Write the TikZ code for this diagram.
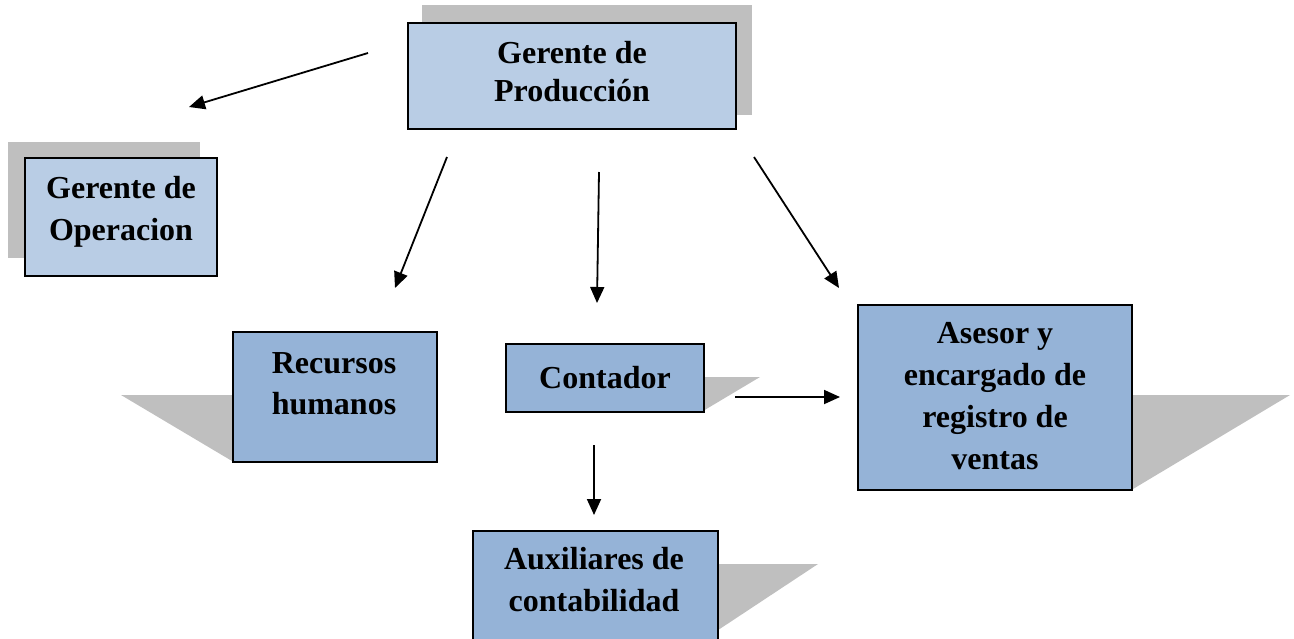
\documentclass[tikz,border=0pt]{standalone}
\usepackage{fontspec}
\setmainfont{Liberation Serif}
\usetikzlibrary{arrows.meta}
\definecolor{boxlight}{HTML}{B9CDE5}
\definecolor{boxdark}{HTML}{95B3D7}
\definecolor{shadowgray}{HTML}{BFBFBF}
\begin{document}
\begin{tikzpicture}[x=1pt,y=-1pt,
  box/.style={draw=black, line width=1.6pt, inner sep=0pt, anchor=north west},
  light/.style={fill=boxlight},
  dark/.style={fill=boxdark},
  txt/.style={inner sep=0pt, align=center, anchor=north,
    font=\bfseries\fontsize{32}{42}\selectfont},
  shade/.style={fill=shadowgray, draw=none},
  arr/.style={line width=1.8pt, -{Triangle[length=16pt,width=14pt]}}]
\useasboundingbox (0,0) rectangle (1294,638);
% shadows
\fill[shade] (422,5) rectangle (752,115);
\fill[shade] (8,142) rectangle (200,258);
\fill[shade] (121,395) -- (436,395) -- (436,461) -- (232,461) -- cycle;
\fill[shade] (505,377) -- (760,377) -- (703,411) -- (505,411) -- cycle;
\fill[shade] (857,395) -- (1290,395) -- (1133,489) -- (857,489) -- cycle;
\fill[shade] (472,564) -- (818,564) -- (700,642) -- (472,642) -- cycle;
% boxes
\node[box, light, minimum width=328pt, minimum height=106pt] (prod) at (407,22) {};
\node[box, light, minimum width=192pt, minimum height=118pt] (oper) at (24,157) {};
\node[box, dark, minimum width=204pt, minimum height=130pt] (rrhh) at (232,331) {};
\node[box, dark, minimum width=198pt, minimum height=68pt] (cont) at (505,343) {};
\node[box, dark, minimum width=274pt, minimum height=185pt] (ases) at (857,304) {};
\node[box, dark, minimum width=245pt, minimum height=112pt] (aux) at (472,530) {};
% texts
\node[txt, font=\bfseries\fontsize{32}{38}\selectfont] (prodT) at (572,41) {Gerente de\\Producción};
\node[txt] (operT) at (121,176) {Gerente de\\Operacion};
\node[txt, font=\bfseries\fontsize{32}{41}\selectfont] (rrhhT) at (334,352) {Recursos\\humanos};
\node[txt] (contT) at (605,366) {Contador};
\node[txt] (asesT) at (995,322) {Asesor y\\encargado de\\registro de\\ventas};
\node[txt] (auxT) at (594,547) {Auxiliares de\\contabilidad};
% connector end points
\coordinate (a1s) at (368,53);  \coordinate (a1e) at (189,107);
\coordinate (a2s) at (447,157); \coordinate (a2e) at (395,288);
\coordinate (a3s) at (599,172); \coordinate (a3e) at (597,303);
\coordinate (a4s) at (754,157); \coordinate (a4e) at (839,288);
\coordinate (a5s) at (735,397); \coordinate (a5e) at (840,397);
\coordinate (a6s) at (594,445); \coordinate (a6e) at (594,515);
\draw[arr] (a1s) -- (a1e);
\draw[arr] (a2s) -- (a2e);
\draw[arr] (a3s) -- (a3e);
\draw[arr] (a4s) -- (a4e);
\draw[arr] (a5s) -- (a5e);
\draw[arr] (a6s) -- (a6e);
\end{tikzpicture}
\end{document}
